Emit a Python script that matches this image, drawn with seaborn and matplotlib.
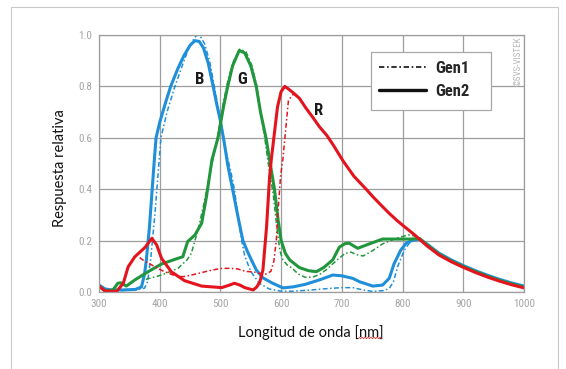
import matplotlib
matplotlib.use("Agg")
import matplotlib.pyplot as plt
from matplotlib import font_manager
from matplotlib.lines import Line2D
from matplotlib.patches import Rectangle
import numpy as np
import pandas as pd
import seaborn as sns

# ---- spectral response data (wavelength in nm, relative response) ----
B1_WL = [300, 310, 320, 340, 360, 375, 380, 385, 392, 399, 402, 412, 425, 437, 448,
         455, 461, 467, 474, 482, 490, 496, 502, 510, 517, 523, 530, 535, 540, 550,
         564, 580, 600, 620, 650, 680, 700, 718, 735, 751, 770, 778, 785, 792, 803,
         814, 828, 840, 860, 880, 900, 920, 940, 960, 980, 1000]
B1 = [0.027, 0.012, 0.006, 0.006, 0.008, 0.015, 0.04, 0.125, 0.3, 0.51, 0.6, 0.7, 0.8, 0.88, 0.95,
      0.98, 1.0, 0.995, 0.965, 0.9, 0.8, 0.72, 0.64, 0.54, 0.47, 0.4, 0.28, 0.2, 0.14, 0.08,
      0.034, 0.012, 0.003, 0.003, 0.008, 0.014, 0.017, 0.017, 0.008, 0.002, 0.006, 0.014, 0.04, 0.1, 0.163,
      0.2, 0.206, 0.187, 0.151, 0.125, 0.103, 0.083, 0.065, 0.049, 0.035, 0.023]

B2_WL = [300, 310, 320, 340, 360, 370, 375, 378, 383, 391, 394, 400, 410, 418, 430,
         440, 450, 458, 465, 472, 480, 488, 494, 500, 506, 512, 520, 530, 537, 545,
         551, 559, 570, 586, 603, 620, 640, 663, 685, 700, 718, 729, 751, 767, 778,
         786, 797, 806, 815, 828, 840, 860, 880, 900, 920, 940, 960, 980, 1000]
B2 = [0.027, 0.012, 0.008, 0.008, 0.01, 0.02, 0.07, 0.125, 0.25, 0.51, 0.6, 0.66, 0.74, 0.8, 0.87,
      0.92, 0.96, 0.978, 0.975, 0.95, 0.89, 0.8, 0.73, 0.665, 0.585, 0.495, 0.4, 0.28, 0.2, 0.155,
      0.125, 0.086, 0.055, 0.034, 0.016, 0.02, 0.03, 0.047, 0.066, 0.063, 0.053, 0.04, 0.023, 0.027, 0.053,
      0.11, 0.163, 0.19, 0.2, 0.206, 0.187, 0.151, 0.125, 0.103, 0.083, 0.065, 0.049, 0.035, 0.023]

G1_WL = [377, 403, 430, 445, 452, 463, 473, 484, 495, 505, 513, 522, 532, 542, 552,
         560, 566, 573, 580, 587, 593, 598, 603, 610, 618, 628, 640, 652, 663, 674,
         690, 705, 715, 725, 735, 750, 767, 780, 795, 810, 820, 828, 840, 860, 880,
         900, 920, 940, 960, 980, 1000]
G1 = [0.049, 0.066, 0.092, 0.125, 0.15, 0.241, 0.345, 0.475, 0.6, 0.74, 0.83, 0.9, 0.945, 0.935, 0.88,
      0.8, 0.7, 0.6, 0.48, 0.38, 0.25, 0.16, 0.125, 0.105, 0.093, 0.07, 0.057, 0.058, 0.068, 0.086,
      0.12, 0.15, 0.155, 0.145, 0.14, 0.16, 0.187, 0.2, 0.213, 0.222, 0.218, 0.21, 0.184, 0.147, 0.121,
      0.099, 0.079, 0.061, 0.045, 0.031, 0.019]

G2_WL = [300, 310, 323, 331, 336, 345, 359, 381, 403, 430, 438, 446, 458, 469, 477,
         486, 496, 505, 512, 520, 531, 540, 550, 559, 566, 575, 582, 589, 595, 600,
         607, 614, 630, 645, 658, 670, 685, 696, 705, 712, 726, 745, 767, 795, 813,
         828, 840, 860, 880, 900, 920, 940, 960, 980, 1000]
G2 = [0.023, 0.004, 0.008, 0.034, 0.036, 0.023, 0.047, 0.079, 0.109, 0.131, 0.137, 0.196, 0.222, 0.267, 0.371,
      0.514, 0.6, 0.72, 0.8, 0.88, 0.94, 0.93, 0.88, 0.8, 0.7, 0.6, 0.5, 0.4, 0.28, 0.2,
      0.15, 0.125, 0.095, 0.083, 0.079, 0.095, 0.125, 0.175, 0.188, 0.19, 0.17, 0.187, 0.206, 0.206, 0.206,
      0.208, 0.184, 0.147, 0.121, 0.099, 0.079, 0.061, 0.045, 0.031, 0.019]

R1_WL = [367, 375, 387, 400, 408, 420, 430, 440, 452, 465, 480, 492, 502, 515, 528,
         542, 555, 565, 575, 583, 588, 592, 595, 599, 603, 607, 612, 620, 630, 641,
         652, 663, 675, 685, 702, 720, 740, 751, 765, 778, 790, 800, 820, 840, 860,
         880, 900, 920, 940, 960, 980, 1000]
R1 = [0.134, 0.12, 0.105, 0.088, 0.079, 0.068, 0.06, 0.06, 0.066, 0.073, 0.082, 0.088, 0.092, 0.092, 0.09,
      0.08, 0.078, 0.072, 0.07, 0.08, 0.12, 0.2, 0.32, 0.45, 0.52, 0.62, 0.745, 0.77, 0.754, 0.715,
      0.68, 0.643, 0.61, 0.575, 0.51, 0.45, 0.4, 0.371, 0.337, 0.306, 0.28, 0.26, 0.222, 0.18, 0.144,
      0.118, 0.096, 0.076, 0.058, 0.042, 0.028, 0.016]

R2_WL = [300, 310, 329, 340, 348, 359, 376, 387, 395, 403, 419, 441, 469, 502, 515,
         523, 532, 540, 554, 560, 565, 570, 576, 581, 584, 588, 594, 600, 606, 612,
         620, 630, 641, 652, 663, 675, 685, 702, 720, 740, 751, 765, 778, 790, 800,
         820, 840, 860, 880, 900, 920, 940, 960, 980, 1000]
R2 = [0.023, 0.004, 0.002, 0.034, 0.098, 0.137, 0.174, 0.209, 0.183, 0.131, 0.079, 0.044, 0.023, 0.017, 0.027,
      0.034, 0.027, 0.017, 0.008, 0.02, 0.04, 0.086, 0.254, 0.449, 0.52, 0.6, 0.72, 0.78, 0.8, 0.79,
      0.775, 0.754, 0.715, 0.68, 0.643, 0.61, 0.575, 0.51, 0.45, 0.4, 0.371, 0.337, 0.306, 0.28, 0.26,
      0.222, 0.18, 0.144, 0.118, 0.096, 0.076, 0.058, 0.042, 0.028, 0.016]

CHANNELS = ["B", "G", "R"]
GENERATIONS = ["Gen1", "Gen2"]
X_TICKS = [300, 400, 500, 600, 700, 800, 900, 1000]
Y_TICKS = [0.0, 0.2, 0.4, 0.6, 0.8, 1.0]
# channel letters placed on the curves: (wavelength, response)
CHANNEL_LABEL_POS = {"B": (466, 0.825), "G": (535, 0.825), "R": (661, 0.708)}

PALETTE = {"B": "#1f8fd9", "G": "#22963c", "R": "#e3141d"}
DASHDOT = (3.2, 1.6, 1.0, 1.6)


def pick_font(names):
    available = {f.name for f in font_manager.fontManager.ttflist}
    for n in names:
        if n in available:
            return n
    return "DejaVu Sans"


NARROW = pick_font(["Liberation Sans Narrow", "Roboto Condensed", "DejaVu Sans"])
HUMANIST = pick_font(["Lato", "Open Sans", "Noto Sans"])

series = [
    ("B", "Gen1", B1_WL, B1), ("B", "Gen2", B2_WL, B2),
    ("G", "Gen1", G1_WL, G1), ("G", "Gen2", G2_WL, G2),
    ("R", "Gen1", R1_WL, R1), ("R", "Gen2", R2_WL, R2),
]
df = pd.concat(
    [pd.DataFrame({"wl": wl, "resp": v, "canal": c, "gen": g}) for c, g, wl, v in series],
    ignore_index=True,
)

sns.set_style("white")
plt.rcParams["font.family"] = [HUMANIST, "DejaVu Sans"]

fig = plt.figure(figsize=(5.66, 3.69), dpi=100)
ax = fig.add_axes([99 / 566, 1 - 292 / 369, 425 / 566, 257 / 369])

sns.lineplot(
    data=df, x="wl", y="resp", hue="canal", style="gen", size="gen",
    hue_order=CHANNELS, style_order=GENERATIONS, size_order=GENERATIONS,
    palette=PALETTE, dashes={"Gen1": DASHDOT, "Gen2": ""},
    sizes={"Gen1": 1.1, "Gen2": 2.2},
    estimator=None, sort=True, legend=False, ax=ax,
)
for ln in ax.get_lines():
    ln.set_solid_joinstyle("round")
    ln.set_solid_capstyle("round")

grid_col = "#9d9d9d"
ax.set_xlim(300, 1000)
ax.set_ylim(0, 1.0)
ax.set_xticks(X_TICKS)
ax.set_xticklabels([str(t) for t in X_TICKS])
ax.set_yticks(Y_TICKS)
ax.set_yticklabels([f"{t:.1f}" for t in Y_TICKS])
ax.grid(True, color=grid_col, lw=0.9)
ax.set_axisbelow(True)
for sp in ax.spines.values():
    sp.set_color(grid_col)
    sp.set_linewidth(0.9)
ax.tick_params(length=0, pad=5, labelsize=8, labelcolor="#a5a5a5")
for lab in ax.get_xticklabels() + ax.get_yticklabels():
    lab.set_family(NARROW)

ax.set_xlabel("Longitud de onda [nm]", fontsize=10.5, color="#111111")
ax.set_ylabel("Respuesta relativa", fontsize=10.5, color="#111111")
ax.xaxis.set_label_coords((311 - 99) / 425, (292 - 333) / 257)
ax.yaxis.set_label_coords((60 - 99) / 425, (292 - 168) / 257)
ax.xaxis.label.set_va("center")
ax.yaxis.label.set_va("center")

# channel letters
for ch, (x, y) in CHANNEL_LABEL_POS.items():
    ax.text(x, y, ch, ha="center", va="center", fontsize=12, fontweight="bold",
            family=NARROW, color="#1a1a1a", zorder=6)

# copyright mark along the right edge
ax.text(990, 0.9, "©SVS-VISTEK", rotation=90, ha="center", va="center",
        fontsize=6.5, color="#b8b8b8", family=NARROW, zorder=3)

# legend: line style identifies the sensor generation
ax.add_patch(Rectangle((0.64, 0.708), 0.282, 0.226, transform=ax.transAxes,
                       facecolor="white", edgecolor="#a8a8a8", lw=0.9, zorder=7))
handles = [
    Line2D([], [], color="#111111", lw=1.2, dashes=DASHDOT),
    Line2D([], [], color="#111111", lw=2.4),
]
leg = ax.legend(handles, GENERATIONS, loc="center left",
                bbox_to_anchor=((379 - 99) / 425, (292 - 80) / 257),
                frameon=False, borderpad=0, borderaxespad=0,
                handlelength=2.8, handletextpad=0.6, labelspacing=0.45,
                prop={"family": NARROW, "size": 12, "weight": "bold"})
leg.set_zorder(8)

# page frame around the figure
fig.add_artist(Rectangle((11 / 566, -0.1), (558 - 11) / 566, 1.1 - 7 / 369,
                         transform=fig.transFigure, fill=False,
                         edgecolor="#c9c9c9", lw=0.8))

# spell-check squiggle under "nm"
sq_x = np.array([359, 360.5, 362, 363.5, 365, 366.5, 368, 369.5, 371, 372.5,
                 374, 375.5, 377, 378.5, 380, 381.5])
sq_y = np.array([337.2, 338.6] * 8)
fig.add_artist(Line2D(sq_x / 566, 1 - sq_y / 369, transform=fig.transFigure,
                      color="#e03030", lw=0.6))

fig.savefig("out.png", dpi=100)
